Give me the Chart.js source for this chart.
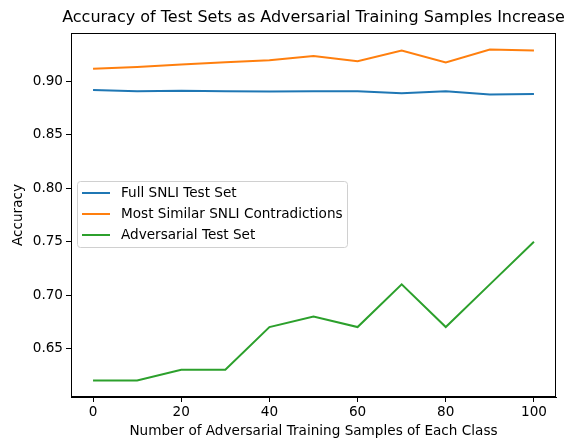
<!DOCTYPE html>
<html>
<head>
<meta charset="utf-8">
<script src="https://cdn.jsdelivr.net/npm/chart.js@4"></script>
<style>
  html, body { margin: 0; padding: 0; background: #fff; }
  #wrap { width: 570px; height: 439px; }
</style>
</head>
<body>
<div id="wrap"><canvas id="chart" width="570" height="439"></canvas></div>
<script>
// data
const samples = [0, 10, 20, 30, 40, 50, 60, 70, 80, 90, 100];
const fullSnli = [0.892, 0.891, 0.8915, 0.891, 0.8906, 0.891, 0.891, 0.889, 0.891, 0.888, 0.8884];
const mostSimilar = [0.912, 0.9137, 0.916, 0.918, 0.920, 0.924, 0.919, 0.929, 0.918, 0.930, 0.929];
const adversarial = [0.62, 0.62, 0.63, 0.63, 0.67, 0.68, 0.67, 0.71, 0.67, 0.71, 0.75];
const xTicks = [0, 20, 40, 60, 80, 100];
const yTicks = [0.65, 0.70, 0.75, 0.80, 0.85, 0.90];

const FONT = "'DejaVu Sans', sans-serif";
const TXT = 13.6;

// frame, title and legend drawn like matplotlib
const mplExtras = {
    id: 'mplExtras',
    afterDraw(chart) {
        const ctx = chart.ctx;
        const a = chart.chartArea;
        ctx.save();
        // axes box
        ctx.strokeStyle = '#000';
        ctx.lineWidth = 1;
        ctx.strokeRect(a.left + 0.5, a.top + 0.5, a.right - a.left - 1, a.bottom - a.top - 1);

        // title
        ctx.fillStyle = '#000';
        ctx.font = '16px ' + FONT;
        ctx.textAlign = 'center';
        ctx.textBaseline = 'middle';
        ctx.fillText('Accuracy of Test Sets as Adversarial Training Samples Increase', (a.left + a.right) / 2, 18);

        // legend
        const lx = 77.5, ly = 181.5, lw = 270, lh = 66;
        ctx.beginPath();
        ctx.roundRect(lx, ly, lw, lh, 3);
        ctx.fillStyle = 'rgba(255,255,255,0.8)';
        ctx.fill();
        ctx.strokeStyle = '#d0d0d0';
        ctx.stroke();
        ctx.font = TXT + 'px ' + FONT;
        ctx.textAlign = 'left';
        chart.data.datasets.forEach((ds, i) => {
            const y = 193 + i * 21;
            ctx.strokeStyle = ds.borderColor;
            ctx.lineWidth = 2;
            ctx.beginPath();
            ctx.moveTo(82, y);
            ctx.lineTo(110, y);
            ctx.stroke();
            ctx.fillStyle = '#000';
            ctx.fillText(ds.label, 121, y);
        });
        ctx.restore();
    }
};

new Chart(document.getElementById('chart'), {
    type: 'line',
    data: {
        labels: samples,
        datasets: [
            { label: 'Full SNLI Test Set', data: fullSnli, borderColor: '#1f77b4' },
            { label: 'Most Similar SNLI Contradictions', data: mostSimilar, borderColor: '#ff7f0e' },
            { label: 'Adversarial Test Set', data: adversarial, borderColor: '#2ca02c' }
        ].map(ds => ({
            ...ds,
            data: ds.data.map((v, i) => ({ x: samples[i], y: v })),
            borderWidth: 2,
            pointRadius: 0,
            fill: false,
            tension: 0
        }))
    },
    options: {
        responsive: false,
        animation: false,
        layout: { padding: { top: 33, right: 14, left: 0, bottom: 0 } },
        plugins: {
            legend: { display: false },
            tooltip: { enabled: false },
            title: { display: false }
        },
        scales: {
            x: {
                type: 'linear',
                min: -5,
                max: 105,
                afterBuildTicks: s => { s.ticks = xTicks.map(v => ({ value: v })); },
                afterFit: s => { s.height = 42; },
                grid: { drawOnChartArea: false, drawTicks: true, tickLength: 5, color: '#000' },
                border: { display: true, color: '#000' },
                ticks: { color: '#000', font: { family: FONT, size: TXT }, padding: 2, maxRotation: 0 },
                title: {
                    display: true,
                    text: 'Number of Adversarial Training Samples of Each Class',
                    color: '#000',
                    font: { family: FONT, size: TXT },
                    padding: { top: 0, bottom: -1 }
                }
            },
            y: {
                min: 0.6045,
                max: 0.9455,
                afterBuildTicks: s => { s.ticks = yTicks.map(v => ({ value: v })); },
                afterFit: s => { s.width = 71; },
                grid: { drawOnChartArea: false, drawTicks: true, tickLength: 5, color: '#000' },
                border: { display: true, color: '#000' },
                ticks: {
                    color: '#000',
                    font: { family: FONT, size: TXT },
                    padding: 3,
                    callback: v => v.toFixed(2)
                },
                title: {
                    display: true,
                    text: 'Accuracy',
                    color: '#000',
                    font: { family: FONT, size: TXT },
                    padding: { top: 10, bottom: 0 }
                }
            }
        }
    },
    plugins: [mplExtras]
});
</script>
</body>
</html>
